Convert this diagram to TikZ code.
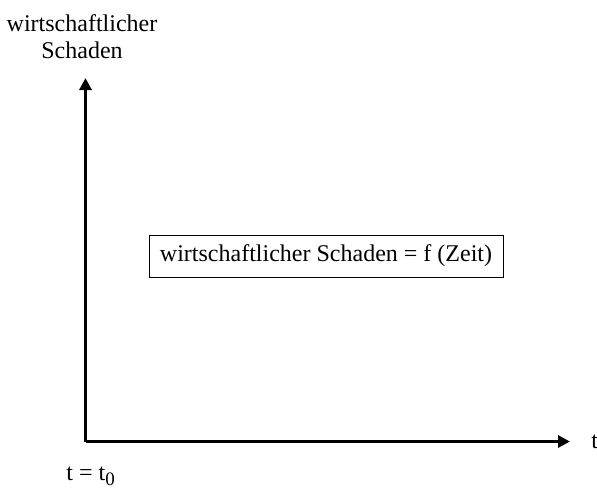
\documentclass[tikz,border=0pt]{standalone}
\usepackage{fontspec}
\setmainfont{Liberation Serif}
\usepackage{tikz}
\usetikzlibrary{positioning, arrows.meta}

\tikzset{
  axisline/.style={line width=1.5pt, -{Triangle[length=6pt, width=6pt]}},
  lbl/.style={font=\fontsize{12}{13.5}\selectfont, inner sep=0pt},
}

\begin{document}
\begin{tikzpicture}[x=0.5pt, y=-0.5pt]
        \useasboundingbox (0, 0) rectangle (597, 488);
        \coordinate (orig) at (85.5, 441.5);
        \coordinate (ytip) at (85.5, 78);
        \coordinate (xtip) at (570, 441.5);
        \draw[axisline] (orig) -- (ytip);
        \draw[axisline] (orig) -- (xtip);
        \node[lbl, align=center, anchor=north] (ylab) at (82, 14) {wirtschaftlicher\\Schaden};
        \node[lbl, anchor=base west] (xlab) at (591, 448) {t};
        \node[lbl, anchor=base west] (t0) at (66, 480)
          {t = t\raisebox{-2.5pt}{\fontsize{9.5}{9.5}\selectfont 0}};
        \node[lbl, draw, line width=0.5pt, minimum width=177pt, minimum height=21pt] (fbox) at (326, 256)
          {wirtschaftlicher Schaden = f (Zeit)};
      \end{tikzpicture}
\end{document}
